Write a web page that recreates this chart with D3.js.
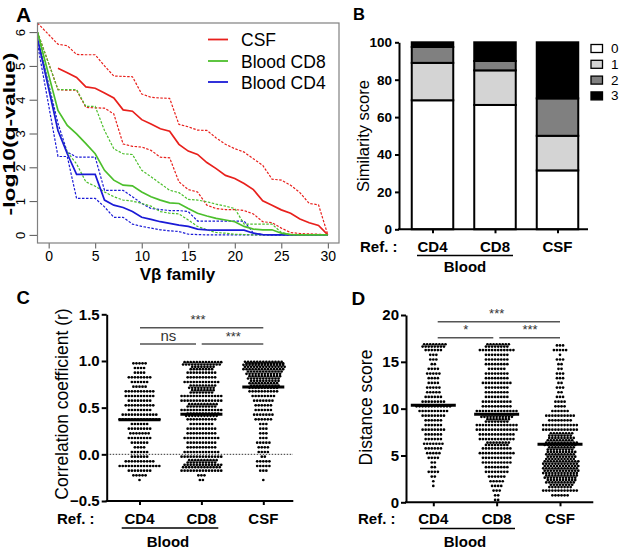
<!DOCTYPE html>
<html><head><meta charset="utf-8">
<script src="https://cdn.jsdelivr.net/npm/d3@7"></script>
<style>body{margin:0;background:#fff}svg{display:block}</style>
</head><body>
<svg id="c" width="622" height="553"></svg>
<script>
// ---------------- DATA ----------------
// Panel A: -log10(q-value) along Vβ family index (first point at left plot edge)
const vbFamily = [-1.2,1,2,3,4,5,6,7,8,9,10,11,12,13,14,15,16,17,18,19,20,21,22,23,24,25,26,27,28,29,30];
const csfMean  = [null,4.93,4.8,4.66,4.38,4.34,4.2,4.05,3.7,3.66,3.41,3.28,3.14,3.07,2.68,2.48,2.38,2.14,1.96,1.76,1.67,1.52,1.34,1.01,0.88,0.74,0.64,0.47,0.36,0.28,0];
const csfHigh  = [6.27,5.64,5.6,5.34,5.33,5.33,5.0,4.7,4.69,4.68,4.17,4.07,4.05,4.04,3.27,3.2,3.1,3.09,2.87,2.68,2.55,2.45,2.25,2.06,1.65,1.62,1.47,1.25,0.93,0.89,0];
const csfLow   = [6.0,4.3,4.28,4.28,3.77,3.76,3.75,3.58,2.69,2.62,2.6,2.5,2.3,2.28,1.57,1.34,1.27,0.88,0.78,0.75,0.75,0.72,0.62,0.39,0.36,0.2,0.07,0.04,0.03,0.02,0];
const cd8Mean  = [6.0,3.68,3.24,2.99,2.7,2.4,1.91,1.62,1.47,1.45,1.27,1.13,1.03,0.95,0.93,0.78,0.64,0.56,0.49,0.44,0.39,0.25,0.17,0.15,0.15,0.05,0.01,0,0,0,0];
const cd8High  = [6.0,4.3,4.3,4.3,3.8,3.8,3.09,2.55,2.4,2.38,1.91,1.72,1.52,1.32,1.25,1.05,1.03,0.98,0.91,0.85,0.78,0.32,0.32,0.32,0.32,0.07,0.01,0,0,0,0];
const cd8Low   = [6.0,3.09,2.45,2.1,1.57,1.44,1.27,1.13,1.03,1.0,0.93,0.85,0.69,0.64,0.62,0.44,0.25,0.15,0.07,0.05,0.02,0.01,0,0,0,0,0,0,0,0,0];
const cd4Mean  = [5.8,3.09,2.4,1.79,1.79,1.79,1.03,0.88,0.81,0.69,0.52,0.46,0.39,0.34,0.29,0.25,0.17,0.15,0.14,0.14,0.14,0.14,0.05,0.01,0,0,0,0,0,0,0];
const cd4High  = [5.85,3.3,2.45,2.3,2.3,2.3,1.32,1.32,1.32,1.13,0.93,0.78,0.75,0.72,0.72,0.69,0.41,0.41,0.41,0.41,0.41,0.41,0.05,0.01,0,0,0,0,0,0,0];
const cd4Low   = [5.65,2.32,2.32,1.08,1.08,1.08,0.83,0.52,0.52,0.32,0.25,0.2,0.15,0.12,0.1,0.02,0.01,0,0,0,0,0,0,0,0,0,0,0,0,0,0];
const legendA  = ["CSF","Blood CD8","Blood CD4"];
const xTicksA  = [0,5,10,15,20,25,30];
const yTicksA  = [0,1,2,3,4,5,6];

// Panel B: similarity score (%) stacked
const refGroups   = ["CD4","CD8","CSF"];
const scoreKeys   = ["0","1","2","3"];
const score0 = [69, 66.5, 31.5];
const score1 = [20, 18.5, 18.5];
const score2 = [8.5, 5, 20];
const score3 = [2.5, 10, 30];
const yTicksB = [0,20,40,60,80,100];

// Panel C: correlation coefficient, counts per 0.05 bin (bin lower edges)
const corrBins = [-0.3,-0.25,-0.2,-0.15,-0.1,-0.05,0,0.05,0.1,0.15,0.2,0.25,0.3,0.35,0.4,0.45,0.5,0.55,0.6,0.65,0.7,0.75,0.8,0.85,0.9,0.95];
const corrCD4 = [1,5,8,14,10,6,6,4,6,8,7,8,6,14,12,8,10,8,10,10,5,6,8,4,4,5];
const corrCD8 = [2,3,14,26,20,14,12,10,10,12,10,10,8,10,22,14,20,14,14,16,18,12,10,10,16,26];
const corrCSF = [1,0,3,5,5,2,4,4,5,3,3,3,3,6,7,6,6,7,8,10,20,20,22,24,28,40];
const corrMeans = [0.37, 0.43, 0.72];
const yTicksC = [-0.5,0,0.5,1.0,1.5];

// Panel D: distance score, counts per 0.5 bin (bin lower edges)
const distBins = [0,0.5,1,1.5,2,2.5,3,3.5,4,4.5,5,5.5,6,6.5,7,7.5,8,8.5,9,9.5,10,10.5,11,11.5,12,12.5,13,13.5,14,14.5,15,15.5,16,16.5];
const distCD4 = [0,0,0,1,1,2,4,2,2,4,5,6,7,6,6,8,6,6,8,10,12,8,6,5,5,4,4,5,4,2,3,3,6,16];
const distCD8 = [2,2,3,4,5,6,8,8,10,10,12,10,16,12,12,14,14,16,22,14,10,10,8,8,8,10,8,8,6,8,8,8,12,16];
const distCSF = [0,6,12,16,20,22,24,24,24,20,20,18,22,18,16,12,12,8,10,6,4,4,3,2,3,2,3,3,2,2,3,1,5,3];
const distMeans = [10.35, 9.4, 6.2];
const yTicksD = [0,5,10,15,20];

// ---------------- DRAWING ----------------
const FONT = "'Liberation Sans', Arial, Helvetica, sans-serif";
const svg = d3.select("#c").style("font-family", FONT);
svg.append("rect").attr("width",622).attr("height",553).attr("fill","#fff");

function label(x, y, s, size, weight, anchor, rot, fill) {
  const t = svg.append("text").attr("x", x).attr("y", y).text(s)
    .attr("font-size", size).attr("font-weight", weight || "normal")
    .attr("text-anchor", anchor || "start").attr("fill", fill || "#000");
  if (rot) t.attr("transform", `rotate(${rot},${x},${y})`);
  return t;
}

// ===== Panel A =====
const xA = d3.scaleLinear([-1.2, 31.2], [37.5, 339]);
const yA = d3.scaleLinear([-0.24, 6.27], [243, 23]);
svg.append("clipPath").attr("id","clipA").append("rect").attr("x",37.5).attr("y",23).attr("width",301.5).attr("height",220);
const gA = svg.append("g");
const axA = svg.append("g").attr("transform","translate(0,243)")
  .call(d3.axisBottom(xA).tickValues(xTicksA).tickSize(5.5).tickSizeOuter(0).tickFormat(d3.format("d")));
axA.select(".domain").remove();
axA.selectAll("line").attr("stroke","#555");
axA.selectAll("text").attr("y",17.7).attr("dy",0).attr("font-size",14).attr("font-family",FONT).attr("fill","#000");
const ayA = svg.append("g").attr("transform","translate(37.5,0)")
  .call(d3.axisLeft(yA).tickValues(yTicksA).tickSize(8).tickSizeOuter(0).tickFormat(d3.format("d")));
ayA.select(".domain").remove();
ayA.selectAll("line").attr("stroke","#555");
ayA.selectAll("text").attr("x",0).attr("y",-13).attr("dy",0).attr("transform","rotate(-90)")
  .attr("text-anchor","middle").attr("font-size",13).attr("font-family",FONT).attr("fill","#000");

const seriesA = [
  {mean: cd4Mean, hi: cd4High, lo: cd4Low, color: "#1a1ad6"},
  {mean: csfMean, hi: csfHigh, lo: csfLow, color: "#e8201c"},
  {mean: cd8Mean, hi: cd8High, lo: cd8Low, color: "#4cbf2c"}
];
const lineA = d3.line().defined(d => d[1] != null).x(d => xA(d[0])).y(d => yA(d[1]));
const gLines = gA.append("g").attr("clip-path","url(#clipA)");
seriesA.forEach(s => {
  [s.hi, s.lo].forEach(arr => {
    gLines.append("path").attr("d", lineA(vbFamily.map((x,i)=>[x, arr[i]])))
      .attr("fill","none").attr("stroke", s.color).attr("stroke-width",1.2).attr("stroke-dasharray","2.5,1.5");
  });
});
seriesA.forEach(s => {
  gLines.append("path").attr("d", lineA(vbFamily.map((x,i)=>[x, s.mean[i]])))
    .attr("fill","none").attr("stroke", s.color).attr("stroke-width",1.7);
});
svg.append("rect").attr("x",37.5).attr("y",23).attr("width",301.5).attr("height",220)
  .attr("fill","none").attr("stroke","#808080").attr("stroke-width",1.2);
const legColors = ["#e8201c","#4cbf2c","#1a1ad6"];
legendA.forEach((n,i) => {
  const y = [39.5, 61, 82][i];
  svg.append("line").attr("x1",208).attr("x2",228).attr("y1",y).attr("y2",y)
    .attr("stroke",legColors[i]).attr("stroke-width",1.8);
  label(241, y + 6.5, n, 17.5, "normal", "start");
});
label(14.5, 134, "-log10(q-value)", 16.5, "bold", "middle", -90)
  .attr("textLength", 163).attr("lengthAdjust", "spacingAndGlyphs");
label(177.5, 279.5, "Vβ family", 17, "bold", "middle");
label(16, 22, "A", 21, "bold");

// ===== Panel B =====
const yB = d3.scaleLinear([0,100],[229.3, 42.3]);
const xB = d3.scalePoint(refGroups, [432.5, 557.5]);
const barW = 41.5;
const rowsB = refGroups.map((g,i) => ({g, "0": score0[i], "1": score1[i], "2": score2[i], "3": score3[i]}));
const stackB = d3.stack().keys(scoreKeys)(rowsB);
const fillsB = ["#ffffff","#d4d4d4","#808080","#000000"];
stackB.forEach((layer, k) => {
  svg.append("g").selectAll("rect").data(layer).join("rect")
    .attr("x", d => xB(d.data.g) - barW/2).attr("width", barW)
    .attr("y", d => yB(d[1])).attr("height", d => yB(d[0]) - yB(d[1]))
    .attr("fill", fillsB[k]).attr("stroke","#000").attr("stroke-width",2);
});
const ayB = svg.append("g").attr("transform","translate(399,0)")
  .call(d3.axisLeft(yB).tickValues(yTicksB).tickSize(4).tickSizeOuter(0).tickPadding(3));
ayB.select(".domain").attr("stroke","#000").attr("stroke-width",2);
ayB.selectAll("line").attr("stroke","#000").attr("stroke-width",2);
ayB.selectAll("text").attr("font-size",13.5).attr("font-weight","bold").attr("font-family",FONT).attr("fill","#000");
const axB = svg.append("g").attr("transform","translate(0,229.3)")
  .call(d3.axisBottom(xB).tickSize(4).tickSizeOuter(0).tickFormat(""));
axB.select(".domain").attr("d","M398,0H588").attr("stroke","#000").attr("stroke-width",2);
axB.selectAll("line").attr("stroke","#000").attr("stroke-width",2);
scoreKeys.forEach((k,i) => {
  const y = 44.5 + i*15.8;
  svg.append("rect").attr("x",591).attr("y",y).attr("width",11.5).attr("height",8)
    .attr("fill", fillsB[i]).attr("stroke","#000").attr("stroke-width",1.3);
  label(611, y + 8.5, k, 13.5, "normal", "start");
});
label(369, 136, "Similarity score", 16.5, "normal", "middle", -90);
label(353, 20, "B", 16.5, "bold");
label(360, 252, "Ref. :", 15, "bold");
refGroups.forEach(g => label(xB(g), 252, g, 15, "bold", "middle"));
svg.append("line").attr("x1",417).attr("x2",513).attr("y1",255.5).attr("y2",255.5).attr("stroke","#000").attr("stroke-width",1.6);
label(465, 272, "Blood", 15, "bold", "middle");

// ===== beeswarm helper =====
function swarm(g, bins, binW, counts, cx, yScale) {
  const pts = [];
  counts.forEach((n, i) => {
    if (!n) return;
    const lo = bins[i];
    const rows = Math.max(1, Math.ceil(n / 14));
    let left = n;
    for (let r = 0; r < rows; r++) {
      const k = Math.ceil(left / (rows - r));
      left -= k;
      const v = lo + binW * (r + 0.5) / rows;
      const shift = (r % 2) ? 1.5 : 0;
      for (let j = 0; j < k; j++) pts.push([cx + (j - (k - 1) / 2) * 3.05 + shift, yScale(v)]);
    }
  });
  g.append("g").selectAll("circle").data(pts).join("circle")
    .attr("cx", d => d[0]).attr("cy", d => d[1]).attr("r", 1.35).attr("fill", "#000");
}

// ===== Panel C =====
const yC = d3.scaleLinear([-0.5, 1.5], [501, 314.3]);
const xC = d3.scalePoint(refGroups, [139.5, 263.3]);
svg.append("line").attr("x1",106.7).attr("x2",293).attr("y1",yC(0)).attr("y2",yC(0))
  .attr("stroke","#333").attr("stroke-width",1).attr("stroke-dasharray","1.5,1.5");
[corrCD4, corrCD8, corrCSF].forEach((c,i) => swarm(svg, corrBins, 0.05, c, xC(refGroups[i]), yC));
corrMeans.forEach((m,i) => svg.append("line").attr("x1", xC(refGroups[i]) - 21).attr("x2", xC(refGroups[i]) + 21)
  .attr("y1", yC(m)).attr("y2", yC(m)).attr("stroke","#000").attr("stroke-width",3));
const ayC = svg.append("g").attr("transform","translate(106.7,0)")
  .call(d3.axisLeft(yC).tickValues(yTicksC).tickSize(5).tickSizeOuter(0).tickPadding(2).tickFormat(d3.format(".1f")));
ayC.select(".domain").attr("stroke","#000").attr("stroke-width",2);
ayC.selectAll("line").attr("stroke","#000").attr("stroke-width",2);
ayC.selectAll("text").attr("font-size",15).attr("font-weight","bold").attr("font-family",FONT).attr("fill","#000");
const axC = svg.append("g").attr("transform","translate(0,501)")
  .call(d3.axisBottom(xC).tickSize(4).tickSizeOuter(0).tickFormat(""));
axC.select(".domain").attr("d","M105.7,0H293.3").attr("stroke","#000").attr("stroke-width",2);
axC.selectAll("line").attr("stroke","#000").attr("stroke-width",2);
label(68, 404, "Correlation coefficient (r)", 17.5, "normal", "middle", -90);
label(16.5, 303.5, "C", 18.5, "bold");
label(57, 523.5, "Ref. :", 15, "bold");
refGroups.forEach(g => label(xC(g), 523.5, g, 15, "bold", "middle"));
svg.append("line").attr("x1",121.7).attr("x2",218.3).attr("y1",528).attr("y2",528).attr("stroke","#000").attr("stroke-width",1.6);
label(168, 546.7, "Blood", 15, "bold", "middle");
function sig(x1, x2, y, s, ty, tx, size) {
  svg.append("line").attr("x1",x1).attr("x2",x2).attr("y1",y).attr("y2",y).attr("stroke","#555").attr("stroke-width",1.5);
  label(tx, ty, s, size, "normal", "middle", 0, "#333");
}
sig(140, 263.3, 327.7, "***", 324, 198, 13);
sig(140, 196, 344, "ns", 340.7, 168.3, 15);
sig(201.7, 263.3, 344, "***", 340.5, 233.3, 13);

// ===== Panel D =====
const yD = d3.scaleLinear([0, 20], [502.3, 315]);
const xD = d3.scalePoint(refGroups, [433.3, 560]);
[distCD4, distCD8, distCSF].forEach((c,i) => swarm(svg, distBins, 0.5, c, xD(refGroups[i]), yD));
distMeans.forEach((m,i) => svg.append("line").attr("x1", xD(refGroups[i]) - 22.5).attr("x2", xD(refGroups[i]) + 22.5)
  .attr("y1", yD(m)).attr("y2", yD(m)).attr("stroke","#000").attr("stroke-width",3));
const ayD = svg.append("g").attr("transform","translate(406,0)")
  .call(d3.axisLeft(yD).tickValues(yTicksD).tickSize(5).tickSizeOuter(0).tickPadding(2));
ayD.select(".domain").attr("stroke","#000").attr("stroke-width",2);
ayD.selectAll("line").attr("stroke","#000").attr("stroke-width",2);
ayD.selectAll("text").attr("font-size",15).attr("font-weight","bold").attr("font-family",FONT).attr("fill","#000");
const axD = svg.append("g").attr("transform","translate(0,502.3)")
  .call(d3.axisBottom(xD).tickSize(4).tickSizeOuter(0).tickFormat(""));
axD.select(".domain").attr("d","M405,0H593.3").attr("stroke","#000").attr("stroke-width",2);
axD.selectAll("line").attr("stroke","#000").attr("stroke-width",2);
label(371.5, 407.5, "Distance score", 17.5, "normal", "middle", -90);
label(351.5, 305, "D", 19, "bold");
label(358, 523.5, "Ref. :", 15, "bold");
refGroups.forEach(g => label(xD(g), 523.5, g, 15, "bold", "middle"));
svg.append("line").attr("x1",420).attr("x2",515).attr("y1",528.5).attr("y2",528.5).attr("stroke","#000").attr("stroke-width",1.6);
label(465, 546.7, "Blood", 15, "bold", "middle");
sig(437.7, 560, 321.7, "***", 318, 496.7, 13);
sig(437.7, 493.3, 337.7, "*", 334, 465.7, 13);
sig(499.3, 560, 337.7, "***", 334, 530, 13);
</script>
</body></html>
